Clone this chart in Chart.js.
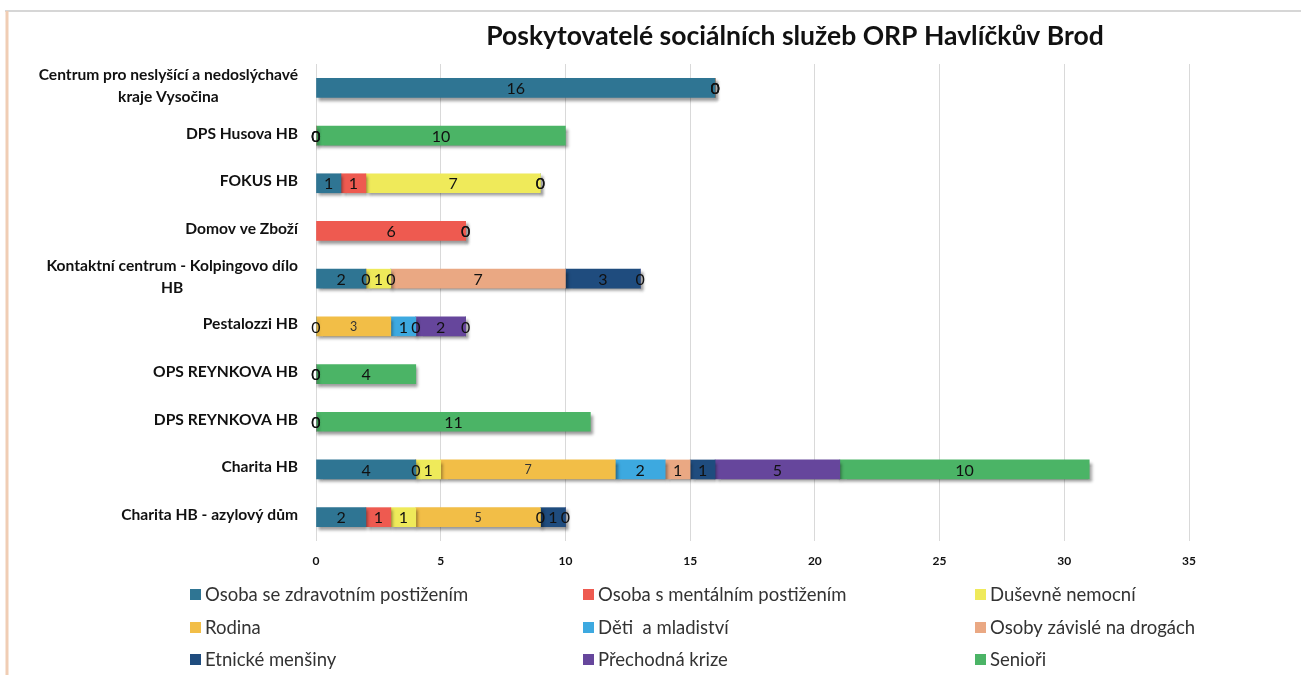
<!DOCTYPE html>
<html><head><meta charset="utf-8">
<script src="https://cdn.jsdelivr.net/npm/chart.js@4.4.1/dist/chart.umd.min.js"></script>
<style>html,body{margin:0;padding:0;background:#fff;}#wrap{position:relative;width:1301px;height:675px;}</style>
</head><body><div id="wrap"><canvas id="c" width="1301" height="675"></canvas></div>
<script>
const chartTitle = "Poskytovatelé sociálních služeb ORP Havlíčkův Brod";
const categories = [
  ["Centrum pro neslyšící a nedoslýchavé", "kraje Vysočina"],
  ["DPS Husova HB"],
  ["FOKUS HB"],
  ["Domov ve Zboží"],
  ["Kontaktní centrum - Kolpingovo dílo", "HB"],
  ["Pestalozzi HB"],
  ["OPS REYNKOVA HB"],
  ["DPS REYNKOVA HB"],
  ["Charita HB"],
  ["Charita HB - azylový dům"]
];
const seriesNames = ["Osoba se zdravotním postižením","Osoba s mentálním postižením","Duševně nemocní","Rodina","Děti  a mladiství","Osoby závislé na drogách","Etnické menšiny","Přechodná krize","Senioři"];
const zdravotni = [16, 0, 1, null, 2, 0, 0, 0, 4, 2];
const mentalni  = [0, 0, 1, 6, 0, null, 0, 0, 0, 1];
const dusevne   = [0, 0, 7, 0, 1, null, null, null, 1, 1];
const rodina    = [null, null, null, null, null, 3, null, null, 7, 5];
const deti      = [null, null, 0, 0, 0, 1, null, null, 2, 0];
const drogy     = [0, null, 0, null, 7, 0, null, null, 1, null];
const etnicke   = [null, null, null, null, 3, null, null, null, 1, 1];
const krize     = [null, null, null, null, 0, 2, null, null, 5, 0];
const seniori   = [null, 10, null, null, null, 0, 4, 11, 10, null];
const xTickValues = [0, 5, 10, 15, 20, 25, 30, 35];

const seriesData = [zdravotni, mentalni, dusevne, rodina, deti, drogy, etnicke, krize, seniori];
const colors = ["#2F7593","#EE5A50","#EFEA5A","#F2BE47","#3DA9E0","#EAA883","#1F4C7E","#66469C","#4BB466"];
const FONT = "Lato, 'Open Sans', sans-serif";

const framePlugin = {
  id: 'frame',
  beforeDraw(chart){
    const c = chart.ctx; c.save();
    c.fillStyle = '#fff'; c.fillRect(0,0,chart.width,chart.height);
    c.strokeStyle = '#D6D6D6'; c.lineWidth = 2;
    c.beginPath(); c.moveTo(5, 11); c.lineTo(chart.width, 11); c.stroke();
    c.strokeStyle = '#F0CDB4'; c.lineWidth = 3;
    c.beginPath(); c.moveTo(7, 11); c.lineTo(7, chart.height); c.stroke();
    c.restore();
  }
};
const shadowPlugin = {
  id: 'shadow',
  beforeDatasetsDraw(chart){
    const c = chart.ctx; c.save();
    c.shadowColor = 'rgba(0,0,0,0.4)'; c.shadowBlur = 3; c.shadowOffsetX = 2; c.shadowOffsetY = 3;
  },
  afterDatasetsDraw(chart){ chart.ctx.restore(); }
};
const labelsPlugin = {
  id: 'labels',
  afterDatasetsDraw(chart){
    const c = chart.ctx; c.save();
    c.textAlign = 'center'; c.textBaseline = 'middle';
    chart.data.datasets.forEach((ds, di) => {
      const meta = chart.getDatasetMeta(di);
      meta.data.forEach((el, i) => {
        const v = ds.data[i];
        if (v === null || v === undefined) return;
        const x = (el.x + el.base) / 2;
        if (di === 3) { c.font = "12.5px " + FONT; c.fillStyle = '#333'; }
        else { c.font = "16px " + FONT; c.fillStyle = '#111'; }
        c.fillText(String(v), x, el.y + 1);
      });
    });
    c.restore();
  }
};
const textPlugin = {
  id: 'texts',
  afterDraw(chart){
    const c = chart.ctx; c.save();
    // title
    c.fillStyle = '#111'; c.font = "bold 26.5px " + FONT; c.textAlign = 'center'; c.textBaseline = 'middle';
    c.fillText(chartTitle, 795, 36);
    // category labels
    const ys = chart.scales.y;
    c.font = "bold 15.6px " + FONT; c.fillStyle = '#111';
    categories.forEach((lines, i) => {
      const y = ys.getPixelForValue(i);
      const w = Math.max(...lines.map(l => c.measureText(l).width));
      const cx = 298 - w / 2;
      const lh = 22;
      lines.forEach((l, k) => {
        c.fillText(l, cx, y - (lines.length - 1) * lh / 2 + k * lh - 2);
      });
    });
    // legend
    const cols = [190, 583, 975], rows = [594, 627, 659];
    c.font = "18.5px " + FONT; c.textAlign = 'left';
    chart.data.datasets.forEach((ds, i) => {
      const x = cols[i % 3], y = rows[Math.floor(i / 3)];
      c.fillStyle = ds.backgroundColor; c.fillRect(x, y - 5, 11, 11);
      c.fillStyle = '#333'; c.fillText(ds.label, x + 15, y + 1);
    });
    c.restore();
  }
};

new Chart(document.getElementById('c'), {
  type: 'bar',
  data: {
    labels: categories.map(l => l.join(' ')),
    datasets: seriesNames.map((n, i) => ({ label: n, data: seriesData[i], backgroundColor: colors[i], borderWidth: 0, barThickness: 19 }))
  },
  options: {
    indexAxis: 'y', responsive: false, animation: false, devicePixelRatio: 1,
    layout: { padding: { left: 316, right: 112, top: 64, bottom: 104 } },
    plugins: { legend: { display: false }, title: { display: false }, tooltip: { enabled: false } },
    scales: {
      x: {
        stacked: true, min: 0, max: 35,
        afterBuildTicks(s){ s.ticks = xTickValues.map(v => ({ value: v })); },
        afterFit(s){ s.height = 30; },
        grid: { color: '#D9D9D9', drawTicks: false },
        border: { display: false },
        ticks: { padding: 13, color: '#111', font: { family: FONT, size: 12, weight: 'bold' } }
      },
      y: { stacked: true, display: false }
    }
  },
  plugins: [framePlugin, shadowPlugin, labelsPlugin, textPlugin]
});
</script></body></html>
